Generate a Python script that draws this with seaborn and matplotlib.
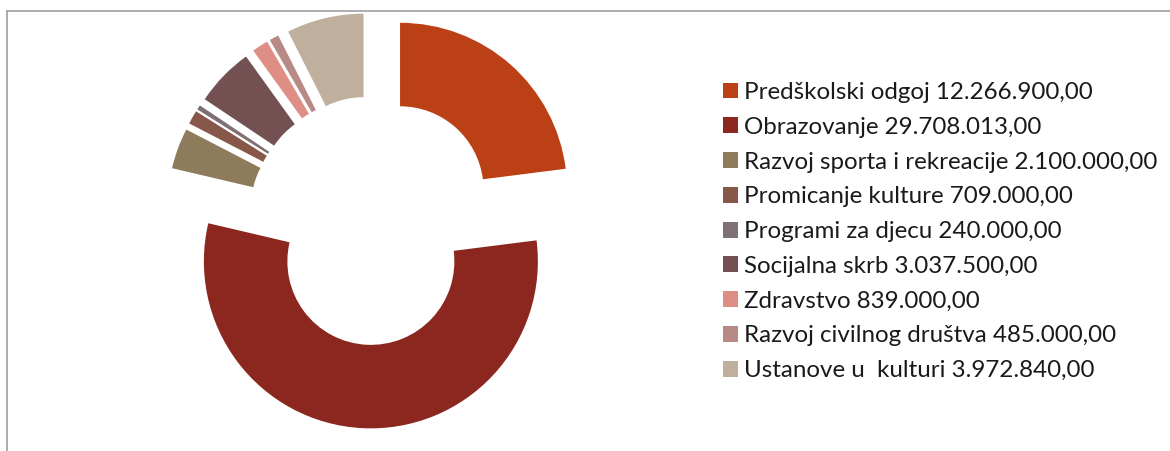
import matplotlib
matplotlib.use("Agg")
import matplotlib.pyplot as plt
import seaborn as sns
from matplotlib.lines import Line2D

categories = [
    "Predškolski odgoj",
    "Obrazovanje",
    "Razvoj sporta i rekreacije",
    "Promicanje kulture",
    "Programi za djecu",
    "Socijalna skrb",
    "Zdravstvo",
    "Razvoj civilnog društva",
    "Ustanove u  kulturi",
]
value_labels = [
    "12.266.900,00",
    "29.708.013,00",
    "2.100.000,00",
    "709.000,00",
    "240.000,00",
    "3.037.500,00",
    "839.000,00",
    "485.000,00",
    "3.972.840,00",
]
values = [12266900, 29708013, 2100000, 709000, 240000, 3037500, 839000, 485000, 3972840]
colors = ["#BB4015", "#8B271E", "#8D7B5C", "#87574A", "#7F7173",
          "#735052", "#DE8E84", "#B88A86", "#BEB09C"]

sns.set_theme(style="white")
plt.rcParams['font.family'] = ['Lato', 'DejaVu Sans']

W, H = 1170, 451
fig = plt.figure(figsize=(W / 100, H / 100), dpi=100)
ax = fig.add_axes([0, 0, 1, 1])

palette = sns.color_palette(colors)
R_px = 167.0
cx, cy = 373.0, 220.5
explode = [0.245] * len(values)
wedges, _ = ax.pie(values, colors=palette, startangle=90, counterclock=False,
                   explode=explode, radius=1.0,
                   wedgeprops=dict(width=0.5, linewidth=0))
ax.set_aspect('auto')
ax.set_xlim(-cx / R_px, (W - cx) / R_px)
ax.set_ylim(-(H - cy) / R_px, cy / R_px)
ax.axis('off')

labels = [f"{c} {v}" for c, v in zip(categories, value_labels)]
fs = 17.4
leg = fig.legend(wedges, labels, loc='upper left',
                 bbox_to_anchor=(723 / W, 1 - 82 / H),
                 bbox_transform=fig.transFigure,
                 frameon=False, fontsize=fs, borderpad=0, borderaxespad=0,
                 handlelength=0.63, handleheight=0.63, handletextpad=0.25,
                 labelspacing=0.57)
for t in leg.get_texts():
    t.set_color("#1a1a1a")

# chart area border (top and left visible)
fig.add_artist(Line2D([7 / W, 1.0], [1 - 11 / H, 1 - 11 / H],
                      transform=fig.transFigure, color="#A6A6A6", linewidth=1.3))
fig.add_artist(Line2D([7 / W, 7 / W], [0, 1 - 11 / H],
                      transform=fig.transFigure, color="#A6A6A6", linewidth=1.3))

fig.savefig("out.png", dpi=100, facecolor="white")
